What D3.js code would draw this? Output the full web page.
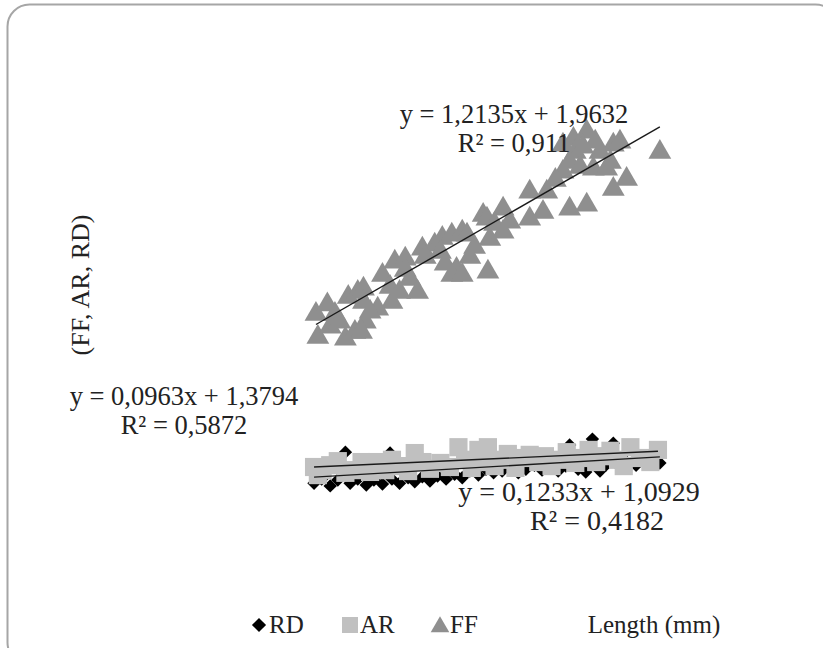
<!DOCTYPE html>
<html>
<head>
<meta charset="utf-8">
<script src="https://cdn.jsdelivr.net/npm/d3@7"></script>
<style>
  body { margin: 0; background: #fff; }
  text { font-family: "Liberation Serif", "Times New Roman", serif; fill: #222; }
</style>
</head>
<body>
<svg id="chart"></svg>
<script>
// RD (x, y)
const rdData = [
  [2.29,1.24],[2.37,1.33],[2.46,1.18],[2.54,1.31],[2.62,1.93],[2.67,1.24],[2.75,1.33],[2.84,1.20],
  [2.92,1.31],[3.01,1.22],[3.09,1.91],[3.11,1.33],[3.19,1.24],[3.28,1.36],[3.35,1.27],[3.43,1.38],
  [3.51,1.29],[3.59,1.40],[3.68,1.33],[3.77,1.44],[3.85,1.36],[3.93,1.51],[4.02,1.42],[4.10,1.55],
  [4.18,1.47],[4.27,1.51],[4.35,1.60],[4.44,1.47],[4.52,1.55],[4.61,1.64],[4.69,1.53],[4.77,1.60],
  [4.86,1.51],[4.94,1.62],[4.98,2.09],[5.07,1.55],[5.15,1.49],[5.22,2.22],[5.30,1.51],[5.36,1.64],
  [5.44,2.13],[5.51,1.60],[5.58,1.71],[5.68,1.64],[5.77,1.76],[5.93,1.69]
];
// AR (x, y)
const arData = [
  [2.29,1.60],[2.33,1.42],[2.38,1.53],[2.46,1.64],[2.54,1.73],[2.62,1.47],[2.69,1.53],[2.79,1.71],
  [2.88,1.49],[2.95,1.71],[3.04,1.53],[3.11,1.76],[3.19,1.62],[3.28,1.51],[3.35,1.91],[3.43,1.71],
  [3.51,1.56],[3.62,1.69],[3.72,1.60],[3.81,2.04],[3.88,1.76],[3.95,1.58],[4.02,1.98],[4.09,1.71],
  [4.12,2.04],[4.19,1.62],[4.27,1.76],[4.33,1.89],[4.41,1.58],[4.48,1.80],[4.56,1.87],[4.65,1.71],
  [4.72,1.84],[4.79,1.62],[4.88,1.76],[4.95,1.93],[5.04,1.69],[5.11,1.80],[5.18,1.98],[5.26,1.71],
  [5.33,1.84],[5.41,1.96],[5.49,1.76],[5.55,1.62],[5.62,2.04],[5.72,1.80],[5.83,1.71],[5.91,1.98]
];
// FF (x, y)
const ffData = [
  [2.31,5.04],[2.33,4.53],[2.62,4.49],[2.72,4.64],[2.51,5.04],[2.43,5.25],[2.65,5.42],[2.75,5.53],
  [2.81,5.60],[3.01,5.91],[3.14,6.20],[3.25,6.27],[3.30,5.82],[3.38,5.53],[3.11,5.31],[2.96,5.16],
  [2.83,4.87],[2.79,4.64],[3.43,6.49],[3.56,6.58],[3.64,6.73],[3.74,5.91],[3.74,6.80],[3.85,6.87],
  [3.90,6.80],[3.79,6.04],[3.85,5.91],[4.12,5.98],[4.07,7.24],[4.11,7.16],[4.28,7.38],[4.14,6.71],
  [4.28,6.87],[4.56,7.76],[4.56,7.16],[4.70,7.31],[4.74,7.76],[4.91,8.80],[5.02,8.93],[5.16,9.09],
  [5.44,8.80],[5.51,8.87],[4.91,8.20],[4.98,8.42],[5.23,8.27],[5.37,8.27],[5.41,8.42],[5.58,8.04],
  [5.44,7.82],[4.98,7.38],[5.16,7.47],[5.93,8.64],
  [2.46,4.76],[2.56,4.87],[2.88,5.09],[2.81,5.31],[3.09,5.64],[3.19,5.53],[3.25,6.02],[3.46,6.31],
  [3.62,6.42],[3.67,6.16],[3.93,6.31],[3.98,6.53],[4.19,7.04],[4.35,7.09],[4.83,8.02],[5.04,8.64],
  [5.09,8.31],[5.30,8.64],[5.25,8.87],[5.12,8.76]
];

const seriesNames = ['RD', 'AR', 'FF'];
// slope, intercept, R²
const trendFF = {a: 1.2135, b: 1.9632, r2: '0,911'};
const trendAR = {a: 0.0963, b: 1.3794, r2: '0,5872'};
const trendRD = {a: 0.1233, b: 1.0929, r2: '0,4182'};
const yLabel = '(FF, AR, RD)';
const xLabel = 'Length (mm)';

const W = 823, H = 648;
const svg = d3.select('#chart').attr('width', W).attr('height', H);

// frame
svg.append('rect')
  .attr('x', 7.5).attr('y', 4.5)
  .attr('width', 830).attr('height', 660)
  .attr('rx', 22)
  .attr('fill', '#fff')
  .attr('stroke', '#a6a6a6')
  .attr('stroke-width', 2);

const x = d3.scaleLinear().domain([2, 6.5]).range([286.5, 714]);
const y = d3.scaleLinear().domain([0, 10]).range([539, 89]);

const fmt = v => d3.format('.4f')(v).replace('.', ',');

const sym = {
  RD: d3.symbol().type(d3.symbolSquare).size(90),
  AR: d3.symbol().type(d3.symbolSquare).size(330),
  FF: d3.symbol().type(d3.symbolTriangle).size(225)
};
const colors = {RD: '#000000', AR: '#c0c0c0', FF: '#8f8f8f'};

function drawPoints(data, name) {
  svg.append('g').selectAll('path')
    .data(data)
    .enter()
    .append('path')
    .attr('d', sym[name]())
    .attr('transform', d => `translate(${x(d[0])},${y(d[1])})` + (name === 'RD' ? ' rotate(45)' : '') + (name === 'FF' ? ' translate(0,2)' : ''))
    .attr('fill', colors[name]);
}

drawPoints(rdData, 'RD');
drawPoints(arData, 'AR');
drawPoints(ffData, 'FF');

function trend(data, t) {
  const ext = d3.extent(data, d => d[0]);
  svg.append('line')
    .attr('x1', x(ext[0])).attr('y1', y(t.a * ext[0] + t.b))
    .attr('x2', x(ext[1])).attr('y2', y(t.a * ext[1] + t.b))
    .attr('stroke', '#1a1a1a')
    .attr('stroke-width', 1.4);
}
trend(rdData, trendRD);
trend(arData, trendAR);
trend(ffData, trendFF);

function eqLabel(t, cx, by, size, cx2) {
  const g = svg.append('g').attr('text-anchor', 'middle').style('font-size', size + 'px');
  g.append('text').attr('x', cx).attr('y', by)
    .text(`y = ${fmt(t.a)}x + ${fmt(t.b)}`);
  g.append('text').attr('x', cx2 || cx).attr('y', by + 29)
    .text(`R² = ${t.r2}`);
}
eqLabel(trendFF, 514, 123, 26.5);
eqLabel(trendAR, 184, 405, 26.5);
eqLabel(trendRD, 579, 501, 28, 597);

// axis titles
svg.append('text')
  .attr('transform', 'translate(89,285) rotate(-90)')
  .attr('text-anchor', 'middle')
  .style('font-size', '26px')
  .text(yLabel);

svg.append('text')
  .attr('x', 654).attr('y', 633)
  .attr('text-anchor', 'middle')
  .style('font-size', '25px')
  .text(xLabel);

// legend
const legX = [259, 350, 440];
const legend = svg.append('g');
seriesNames.forEach((n, i) => {
  legend.append('path')
    .attr('d', n === 'RD' ? d3.symbol().type(d3.symbolSquare).size(100)()
      : n === 'AR' ? d3.symbol().type(d3.symbolSquare).size(256)()
      : d3.symbol().type(d3.symbolTriangle).size(150)())
    .attr('transform', `translate(${legX[i]},${n === 'FF' ? 627 : 625})` + (n === 'RD' ? ' rotate(45)' : ''))
    .attr('fill', colors[n]);
  legend.append('text')
    .attr('x', legX[i] + 10)
    .attr('y', 633)
    .style('font-size', '25px')
    .text(n);
});
</script>
</body>
</html>
